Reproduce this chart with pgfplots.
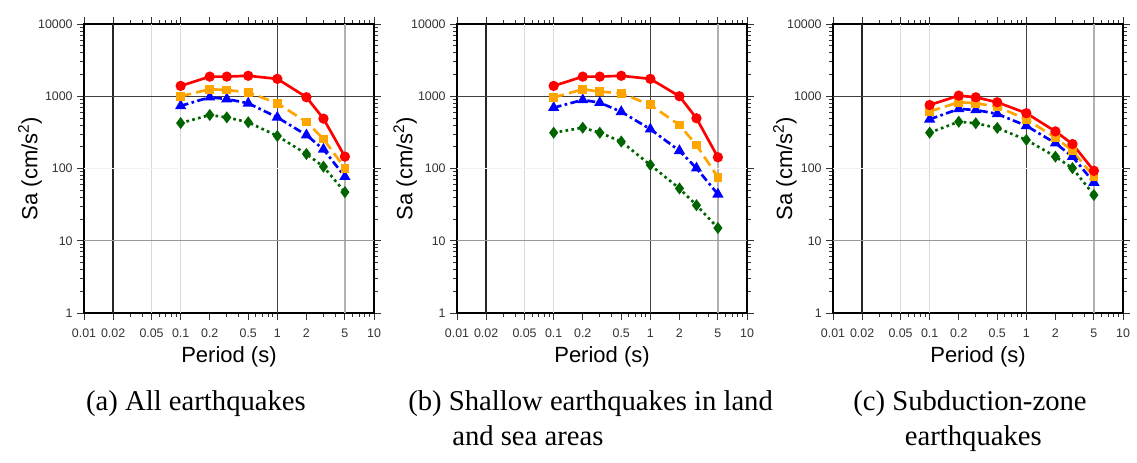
\documentclass[border=0pt]{standalone}
\usepackage{fontspec}
\setmainfont{Liberation Sans}
\newfontfamily\capfont{Liberation Serif}
\usepackage{pgfplots}
\pgfplotsset{compat=1.18}
\usepackage{pgfplotstable}

\definecolor{cRed}{RGB}{255,0,0}
\definecolor{cOrange}{RGB}{255,165,0}
\definecolor{cBlue}{RGB}{0,0,255}
\definecolor{cGreen}{RGB}{0,100,0}

% columns: T, red, orange, blue, green
\pgfplotstableread{
T     r     o     b    g
0.1   1390  1000  735  425
0.2   1870  1250  970  550
0.3   1870  1220  915  510
0.5   1920  1130  800  436
1     1740  800   510  282
2     970   440   290  159
3     490   256   184  106
5     146   101   77   47
}\dataA
\pgfplotstableread{
T     r     o     b    g
0.1   1390  960   695  313
0.2   1870  1250  890  367
0.3   1870  1160  815  313
0.5   1920  1100  610  236
1     1740  760   350  112
2     1000  400   176  53
3     496   211   101  31
5     143   76    44   15
}\dataB
\pgfplotstableread{
T     r     o     b    g
0.1   757   616   480  313
0.2   1020  826   667  444
0.3   967   800   646  423
0.5   826   718   570  364
1     583   479   390  249
2     326   268   224  146
3     218   176   146  101
5     93    77    64   43
}\dataC

\pgfplotsset{
  mypanel/.style={
    scale only axis,
    width=217.5pt, height=216.75pt,
    xmin=0.01, xmax=10, ymin=1, ymax=10000,
    xtick={0.01,0.02,0.05,0.1,0.2,0.5,1,2,5,10},
    xticklabels={0.01,0.02,0.05,0.1,0.2,0.5,1,2,5,10},
    minor xtick={0.03,0.04,0.06,0.07,0.08,0.09,0.3,0.4,0.6,0.7,0.8,0.9,3,4,6,7,8,9},
    ytick={1,10,100,1000,10000},
    yticklabels={1,10,100,1000,10000},
    minor ytick={2,3,4,5,6,7,8,9,20,30,40,50,60,70,80,90,200,300,400,500,600,700,800,900,2000,3000,4000,5000,6000,7000,8000,9000},
    tick align=outside,
    major tick length=5pt, minor tick length=3pt,
    axis line style={line width=1.5pt},
    tick style={black!80, line width=0.7pt},
    ticklabel style={font=\fontsize{9.3}{11}\selectfont, text=black!80},
    xticklabel style={yshift=-3.5pt},
    xlabel={Period (s)},
    ylabel={Sa (cm/s\textsuperscript{2})},
    label style={font=\fontsize{16.5}{19}\selectfont},
    xlabel style={at={(axis description cs:0.5,-0.152)}, anchor=center},
    clip=false,
  },
  sR/.style={cRed, line width=2pt, mark=*, mark size=2.8pt, mark options={solid}},
  sO/.style={cOrange, line width=2pt, dash pattern=on 8pt off 4pt, mark=square*, mark size=2.3pt, mark options={solid}},
  sB/.style={cBlue, line width=2pt, dash pattern=on 6pt off 2.5pt on 2pt off 2.5pt, mark=triangle*, mark size=2.9pt, mark options={solid}},
  sG/.style={cGreen, line width=2pt, dash pattern=on 2pt off 2.5pt, mark=diamond*, mark size=2.9pt, mark options={solid}},
}

\newcommand{\gridlines}{%
  \draw[black!15, line width=1pt] (axis cs:0.05,1) -- (axis cs:0.05,10000);
  \draw[black!15, line width=1pt] (axis cs:0.1,1) -- (axis cs:0.1,10000);
  \draw[black!30, line width=1pt] (axis cs:5,1) -- (axis cs:5,10000);
  \draw[black!85, line width=1pt] (axis cs:0.02,1) -- (axis cs:0.02,10000);
  \draw[black!75, line width=1pt] (axis cs:1,1) -- (axis cs:1,10000);
  \draw[black!5, line width=1pt] (axis cs:0.01,100) -- (axis cs:10,100);
  \draw[black!40, line width=1pt] (axis cs:0.01,10) -- (axis cs:10,10);
  \draw[black!75, line width=1pt] (axis cs:0.01,1000) -- (axis cs:10,1000);
}

\begin{document}
\begin{tikzpicture}
\path[use as bounding box] (0,0) rectangle (852.75pt,346.5pt);

\begin{loglogaxis}[mypanel, at={(63pt,111.75pt)}, anchor=south west,
  ylabel style={at={(axis description cs:-0.186,0.5)}, anchor=center}]
  \gridlines
  \addplot[sG] table[x=T,y=g] {\dataA};
  \addplot[sB] table[x=T,y=b] {\dataA};
  \addplot[sO] table[x=T,y=o] {\dataA};
  \addplot[sR] table[x=T,y=r] {\dataA};
\end{loglogaxis}

\begin{loglogaxis}[mypanel, at={(342.75pt,111.75pt)}, anchor=south west,
  ylabel style={at={(axis description cs:-0.179,0.5)}, anchor=center}]
  \gridlines
  \addplot[sG] table[x=T,y=g] {\dataB};
  \addplot[sB] table[x=T,y=b] {\dataB};
  \addplot[sO] table[x=T,y=o] {\dataB};
  \addplot[sR] table[x=T,y=r] {\dataB};
\end{loglogaxis}

\begin{loglogaxis}[mypanel, at={(624.75pt,111.75pt)}, anchor=south west,
  ylabel style={at={(axis description cs:-0.166,0.5)}, anchor=center}]
  \gridlines
  \addplot[sG] table[x=T,y=g] {\dataC};
  \addplot[sB] table[x=T,y=b] {\dataC};
  \addplot[sO] table[x=T,y=o] {\dataC};
  \addplot[sR] table[x=T,y=r] {\dataC};
\end{loglogaxis}

\node[anchor=base, font=\capfont\fontsize{21.5}{26}\selectfont, inner sep=0pt] at (147pt,39pt) {(a) All earthquakes};
\node[anchor=base west, font=\capfont\fontsize{21.5}{26}\selectfont, inner sep=0pt] at (306pt,39pt) {(b) Shallow earthquakes in land};
\node[anchor=base west, font=\capfont\fontsize{21.5}{26}\selectfont, inner sep=0pt] at (339pt,12.75pt) {and sea areas};
\node[anchor=base, font=\capfont\fontsize{21.5}{26}\selectfont, inner sep=0pt] at (727.5pt,39pt) {(c) Subduction-zone};
\node[anchor=base, font=\capfont\fontsize{21.5}{26}\selectfont, inner sep=0pt] at (730pt,12.75pt) {earthquakes};
\end{tikzpicture}
\end{document}
